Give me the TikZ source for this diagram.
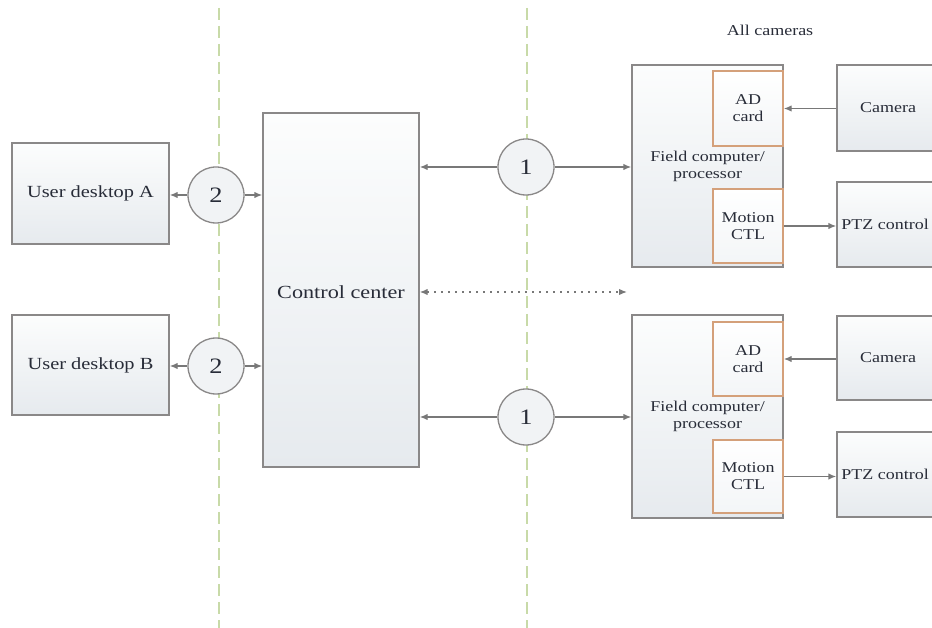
\documentclass[tikz,border=0pt]{standalone}
\usepackage{fontspec}
\setmainfont{Liberation Serif}[FakeStretch=1.2]
\usetikzlibrary{arrows.meta}
\definecolor{boxline}{RGB}{138,136,136}
\definecolor{boxfillA}{RGB}{252,253,253}
\definecolor{boxfillB}{RGB}{230,234,238}
\definecolor{cardline}{RGB}{212,160,122}
\definecolor{wireline}{RGB}{120,120,120}
\definecolor{zoneline}{RGB}{200,218,168}
\definecolor{labelink}{RGB}{40,44,56}
\tikzset{
  unitbox/.style={draw=boxline, line width=1.4pt, top color=boxfillA, bottom color=boxfillB,
    inner sep=0pt, align=center, text=labelink},
  cardbox/.style={draw=cardline, line width=1.4pt, top color=white, bottom color=boxfillA!60!boxfillB,
    inner sep=0pt, align=center, text=labelink, font=\fontsize{15}{17}\selectfont},
  linkcircle/.style={circle, draw=boxline, line width=1.3pt, fill=boxfillA!50!boxfillB,
    minimum size=56pt, inner sep=0pt, text=labelink, font=\fontsize{22}{24}\selectfont},
  tip/.tip={Latex[length=8pt,width=6.5pt]},
  wire/.style={draw=wireline, line width=1.4pt, -tip},
  zone/.style={draw=zoneline, line width=1.3pt, dash pattern=on 12pt off 6pt},
  smalltext/.style={font=\fontsize{15}{17}\selectfont},
}
\begin{document}
\begin{tikzpicture}[x=1pt, y=-1pt]
\useasboundingbox (0,0) rectangle (932,628);
\clip (0,0) rectangle (932,628);

% zone separators
\coordinate (zoneAtop) at (219,8);
\coordinate (zoneAbot) at (219,628);
\coordinate (zoneBtop) at (527,8);
\coordinate (zoneBbot) at (527,628);
\draw[zone] (zoneAtop) -- (zoneAbot);
\draw[zone] (zoneBtop) -- (zoneBbot);

% user side
\node[unitbox, minimum width=157pt, minimum height=101pt, font=\fontsize{17}{20}\selectfont]
  (deskA) at (90.5,193.5) {User desktop A};
\node[unitbox, minimum width=157pt, minimum height=100pt, font=\fontsize{17}{20}\selectfont]
  (deskB) at (90.5,365) {User desktop B};

% control center
\node[unitbox, minimum width=156pt, minimum height=354pt, font=\fontsize{18.5}{21}\selectfont]
  (ctrl) at (341,290) {};
\node[text=labelink, font=\fontsize{18.5}{21}\selectfont] (ctrltext) at (341,292) {Control center};

% field units
\node[text=labelink, smalltext] (allcams) at (770,30) {All cameras};

\node[unitbox, minimum width=151pt, minimum height=202pt, smalltext] (field1) at (707.5,166)
  {Field computer/\\processor};
\node[cardbox, minimum width=70pt, minimum height=75pt] (ad1) at (748,108.5) {AD\\card};
\node[cardbox, minimum width=70pt, minimum height=74pt] (mot1) at (748,226) {Motion\\CTL};
\node[unitbox, minimum width=108pt, minimum height=86pt, smalltext] (cam1) at (891,108) {};
\node[text=labelink, smalltext] (cam1text) at (888,108) {Camera};
\node[unitbox, minimum width=108pt, minimum height=85pt, smalltext] (ptz1) at (891,224.5) {};
\node[text=labelink, smalltext] (ptz1text) at (885,224.5) {PTZ control};

\node[unitbox, minimum width=151pt, minimum height=203pt, smalltext] (field2) at (707.5,416.5)
  {Field computer/\\processor};
\node[cardbox, minimum width=70pt, minimum height=74pt] (ad2) at (748,359) {AD\\card};
\node[cardbox, minimum width=70pt, minimum height=73pt] (mot2) at (748,476.5) {Motion\\CTL};
\node[unitbox, minimum width=108pt, minimum height=84pt, smalltext] (cam2) at (891,358) {};
\node[text=labelink, smalltext] (cam2text) at (888,358) {Camera};
\node[unitbox, minimum width=108pt, minimum height=85pt, smalltext] (ptz2) at (891,474.5) {};
\node[text=labelink, smalltext] (ptz2text) at (885,474.5) {PTZ control};

% link markers
\node[linkcircle] (l2a) at (216,195) {2};
\node[linkcircle] (l2b) at (216,366) {2};
\node[linkcircle] (l1a) at (526,167) {1};
\node[linkcircle] (l1b) at (526,417) {1};

% links between user desktops and control center
\draw[wire] (l2a) -- (deskA.east |- l2a);
\draw[wire] (l2a) -- (ctrl.west |- l2a);
\draw[wire] (l2b) -- (deskB.east |- l2b);
\draw[wire] (l2b) -- (ctrl.west |- l2b);

% links between control center and field units
\draw[wire] (l1a) -- (ctrl.east |- l1a);
\draw[wire] (l1a) -- (field1.west |- l1a);
\draw[wire] (l1b) -- (ctrl.east |- l1b);
\draw[wire] (l1b) -- (field2.west |- l1b);

% further field units
\coordinate (moreunits) at (627,292);
\draw[wire, tip-tip, dash pattern=on 1.5pt off 5.5pt]
  (ctrl.east |- moreunits) -- (moreunits);

% camera and pan-tilt-zoom links
\draw[wire] (cam1.west |- ad1.east) -- (ad1.east);
\draw[wire] (mot1.east) -- (ptz1.west |- mot1.east);
\draw[wire] (cam2.west |- ad2.east) -- (ad2.east);
\draw[wire] (mot2.east) -- (ptz2.west |- mot2.east);
\end{tikzpicture}
\end{document}
